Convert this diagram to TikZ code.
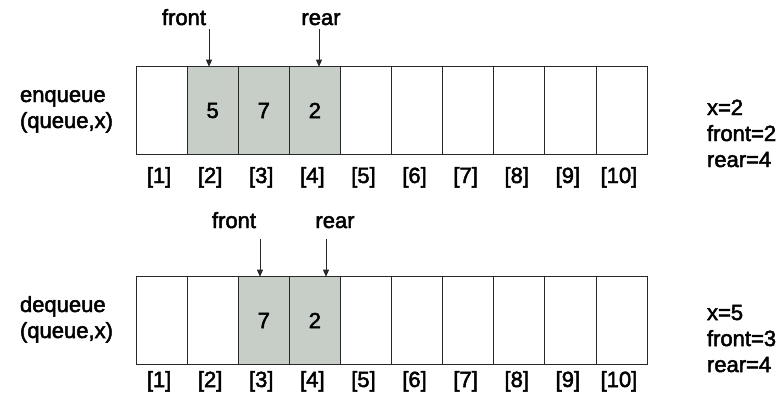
\documentclass[tikz,border=0pt]{standalone}
\usepackage{fontspec}
\setmainfont[FakeBold=2.2]{Liberation Sans}
\usetikzlibrary{arrows.meta}
\definecolor{qgray}{RGB}{199,205,199}
\definecolor{qline}{RGB}{40,40,40}
\begin{document}
\begin{tikzpicture}[x=1pt,y=-1pt,
  cellbox/.style={draw=qline, line width=0.8pt, minimum width=51.1pt, minimum height=87.6pt, inner sep=0pt, outer sep=0pt, anchor=north west},
  lbl/.style={font=\fontsize{22}{26}\selectfont, inner sep=0pt, outer sep=0pt, text=black},
  arr/.style={draw=qline, line width=0.8pt, -{Triangle[length=7pt,width=6pt]}}]
\useasboundingbox (0,0) rectangle (783,399);
% ---------- top array (enqueue) ----------
\foreach \i/\f in {1/white,2/qgray,3/qgray,4/qgray,5/white,6/white,7/white,8/white,9/white,10/white}{
  \node[cellbox, fill=\f] (t\i) at ({136+(\i-1)*51.1},66.7) {};
  \node[lbl, anchor=base] (ti\i) at ({136+(\i-0.5)*51.1-2.5},183) {[\i]};
}
\node[lbl] (tv2) at (t2.center) {5};
\node[lbl] (tv3) at (t3.center) {7};
\node[lbl] (tv4) at (t4.center) {2};
\node[lbl, anchor=base west] (tl1) at (20,102) {enqueue};
\node[lbl, anchor=base west] (tl2) at (20,128) {(queue,x)};
\node[lbl, anchor=base] (tfront) at (184,25) {front};
\node[lbl, anchor=base] (trear) at (321,25) {rear};
\coordinate (tfa) at (209,29);
\coordinate (tra) at (319,29);
\draw[arr] (tfa) -- (tfa |- t2.north);
\draw[arr] (tra) -- (tra |- t4.north);
\node[lbl, anchor=base west] (tr1) at (707,115) {x=2};
\node[lbl, anchor=base west] (tr2) at (707,141) {front=2};
\node[lbl, anchor=base west] (tr3) at (707,167) {rear=4};
% ---------- bottom array (dequeue) ----------
\foreach \i/\f in {1/white,2/white,3/qgray,4/qgray,5/white,6/white,7/white,8/white,9/white,10/white}{
  \node[cellbox, fill=\f] (b\i) at ({136+(\i-1)*51.1},276.7) {};
  \node[lbl, anchor=base] (bi\i) at ({136+(\i-0.5)*51.1-2.5},387) {[\i]};
}
\node[lbl] (bv3) at (b3.center) {7};
\node[lbl] (bv4) at (b4.center) {2};
\node[lbl, anchor=base west] (bl1) at (20,312) {dequeue};
\node[lbl, anchor=base west] (bl2) at (20,338) {(queue,x)};
\node[lbl, anchor=base] (bfront) at (234,228) {front};
\node[lbl, anchor=base] (brear) at (335,228) {rear};
\coordinate (bfa) at (260,239);
\coordinate (bra) at (326,239);
\draw[arr] (bfa) -- (bfa |- b3.north);
\draw[arr] (bra) -- (bra |- b4.north);
\node[lbl, anchor=base west] (br1) at (707,320) {x=5};
\node[lbl, anchor=base west] (br2) at (707,346) {front=3};
\node[lbl, anchor=base west] (br3) at (707,372) {rear=4};
\end{tikzpicture}
\end{document}
